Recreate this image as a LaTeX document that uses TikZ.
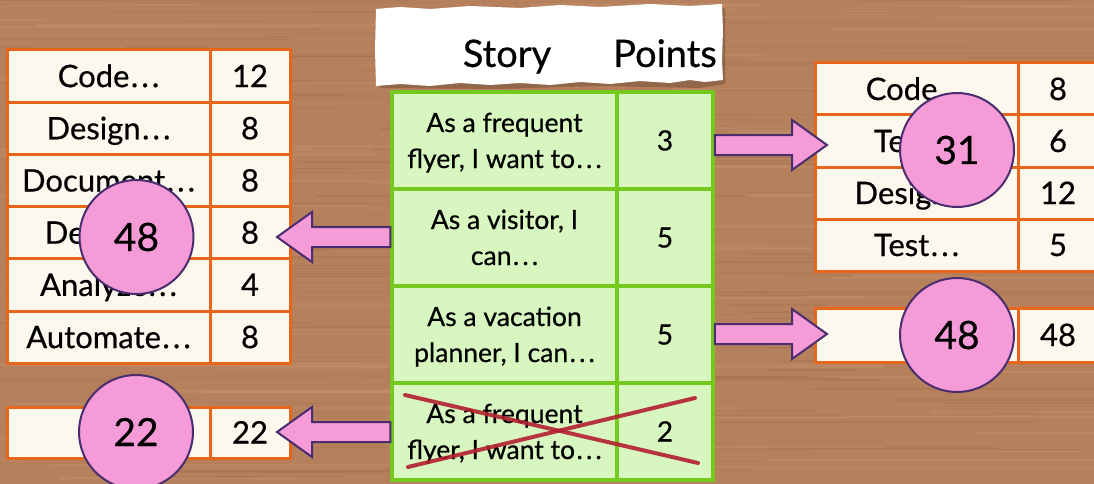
\documentclass[tikz,border=0pt]{standalone}
\usepackage{fontspec}
\setmainfont{Lato}[FakeBold=0.5]
\usetikzlibrary{calc}
\definecolor{wood}{HTML}{B6805C}
\definecolor{wooddark}{HTML}{8A5536}
\definecolor{woodlight}{HTML}{D2A482}
\definecolor{taskfill}{HTML}{FDF8EE}
\definecolor{taskline}{HTML}{E8661A}
\definecolor{storyfill}{HTML}{D8F6C0}
\definecolor{storyline}{HTML}{74C81E}
\definecolor{pinkfill}{HTML}{F49BD8}
\definecolor{purpleline}{HTML}{4A2D6E}
\definecolor{crossred}{HTML}{B3202F}
\newcommand\ellip{\kern1.5pt.\kern3.2pt.\kern3.2pt.}
\tikzset{
  taskcell/.style={draw=taskline, fill=taskfill, line width=3pt, inner sep=0pt,
    font=\fontsize{31}{35}\selectfont, text height=22pt, text depth=0pt},
  storycell/.style={draw=storyline, fill=storyfill, line width=3.5pt, inner sep=0pt,
    font=\fontsize{28}{33}\selectfont, text height=20pt, text depth=0pt},
  storytext/.style={align=center, anchor=base, inner sep=0pt,
    font=\fontsize{26.5}{36}\selectfont},
  total/.style={circle, draw=purpleline, fill=pinkfill, line width=2pt,
    minimum size=114pt, inner sep=0pt, font=\fontsize{39}{40}\selectfont},
  blockarr/.style={draw=purpleline, fill=pinkfill, line width=2pt, line join=miter},
  headtext/.style={anchor=base, inner sep=0pt, font=\fontsize{38}{40}\selectfont}
}
% #1 tail node anchor, #2 tip coordinate, #3 signed head length
\newcommand\blockarrow[3]{%
  \draw[blockarr] let \p1=(#1), \p2=(#2) in
    (\x1,\y2+10pt) -- (\x2-#3,\y2+10pt) -- (\x2-#3,\y2+25pt) -- (\p2)
    -- (\x2-#3,\y2-25pt) -- (\x2-#3,\y2-10pt) -- (\x1,\y2-10pt) -- cycle;}
\begin{document}
\begin{tikzpicture}[x=1pt,y=-1pt]
\useasboundingbox (0,0) rectangle (1094,484);
% wood background
\fill[wood] (0,0) rectangle (1094,484);
\pgfmathsetseed{11}
\foreach \i in {1,...,160}{
  \pgfmathsetmacro\yy{rnd*484}
  \pgfmathsetmacro\xx{rnd*1094-100}
  \pgfmathsetmacro\ll{80+rnd*400}
  \pgfmathsetmacro\ww{0.5+rnd*1.8}
  \draw[wooddark, opacity=0.16, line width=\ww pt] (\xx,\yy) -- ++(\ll,0);
}
\foreach \i in {1,...,100}{
  \pgfmathsetmacro\yy{rnd*484}
  \pgfmathsetmacro\xx{rnd*1094-100}
  \pgfmathsetmacro\ll{80+rnd*400}
  \pgfmathsetmacro\ww{1+rnd*3}
  \draw[woodlight, opacity=0.2, line width=\ww pt] (\xx,\yy) -- ++(\ll,0);
}
% header paper
\fill[black, opacity=0.2] (378,12) -- (725,8) -- (725,84) -- (700,88) -- (600,86) -- (500,89) -- (380,88) -- cycle;
\fill[white] (376,9) -- (400,7) -- (430,9) -- (470,6) -- (520,8) -- (560,5) -- (600,7) -- (650,4) -- (690,6) -- (722,4)
  -- (723,30) -- (722,60) -- (723,80)
  -- (705,82) -- (690,80) -- (670,83) -- (640,81) -- (610,84) -- (580,82) -- (550,85) -- (520,83) -- (490,85)
  -- (460,83) -- (430,86) -- (400,84) -- (376,86) -- (375,50) -- cycle;
\node[headtext] (hstory) at (507,67) {Story};
\node[headtext] (hpoints) at (665,67) {Points};
% left table
\foreach \t/\n [count=\i] in {Code/12, Design/8, Document/8, Deploy/8, Analyze/4, Automate/8}{
  \node[taskcell, minimum width=203pt, minimum height=52.2pt] (l\i a) at (108.5,{50+52.2*(\i-0.5)}) {\t\ellip};
  \node[taskcell, minimum width=80pt, minimum height=52.2pt] (l\i b) at (250,{50+52.2*(\i-0.5)}) {\n};
}
% bottom-left table
\node[taskcell, minimum width=203pt, minimum height=51pt] (bla) at (108.5,432.5) {};
\node[taskcell, minimum width=80pt, minimum height=51pt] (blb) at (250,432.5) {22};
% right table
\foreach \t/\n [count=\i] in {Code/8, Test/6, Design/12, Test/5}{
  \node[taskcell, minimum width=203pt, minimum height=52pt] (r\i a) at (916.5,{63+52*(\i-0.5)}) {\t\ellip};
  \node[taskcell, minimum width=80pt, minimum height=52pt] (r\i b) at (1058,{63+52*(\i-0.5)}) {\n};
}
% bottom-right table
\node[taskcell, minimum width=203pt, minimum height=54pt] (bra) at (916.5,335) {};
\node[taskcell, minimum width=80pt, minimum height=54pt] (brb) at (1058,335) {48};
% story table
\foreach \n [count=\i] in {3,5,5,2}{
  \node[storycell, minimum width=225pt, minimum height=97pt] (g\i a) at (504.5,{92+97*(\i-0.5)}) {};
  \node[storycell, minimum width=96pt, minimum height=97pt] (g\i b) at (665,{92+97*(\i-0.5)}) {\n};
}
\node[storytext] (s1) at ($(g1a.center)+(0,27.5)$) {As a frequent\\flyer, I want to\ellip};
\node[storytext] (s2) at ($(g2a.center)+(0,27.5)$) {As a visitor, I\\can\ellip};
\node[storytext] (s3) at ($(g3a.center)+(0,27.5)$) {As a vacation\\planner, I can\ellip};
\node[storytext] (s4) at ($(g4a.center)+(0,27.5)$) {As a frequent\\flyer, I want to\ellip};
% cross
\draw[crossred, opacity=0.9, line width=4pt, line cap=round] (405,395) -- (698,463);
\draw[crossred, opacity=0.9, line width=4pt, line cap=round] (408,467) -- (695,398);
% arrows
\coordinate (tip1) at (827,145);
\coordinate (tip2) at (277,237);
\coordinate (tip3) at (827,334);
\coordinate (tip4) at (277,432);
\blockarrow{g1b.east}{tip1}{35pt}
\blockarrow{g2a.west}{tip2}{-35pt}
\blockarrow{g3b.east}{tip3}{35pt}
\blockarrow{g4a.west}{tip4}{-35pt}
% totals
\node[total] (t1) at (136.5,237) {48};
\node[total] (t2) at (957,150) {31};
\node[total] (t3) at (957,335) {48};
\node[total] (t4) at (136,432) {22};
\end{tikzpicture}
\end{document}
